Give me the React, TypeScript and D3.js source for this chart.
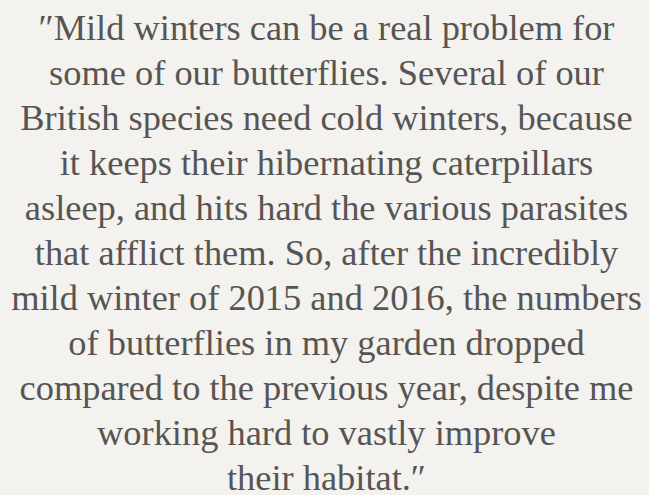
import React, { useEffect, useRef } from "react";
import * as d3 from "d3";

const quoteLines: string[] = [
  "″Mild winters can be a real problem for",
  "some of our butterflies. Several of our",
  "British species need cold winters, because",
  "it keeps their hibernating caterpillars",
  "asleep, and hits hard the various parasites",
  "that afflict them. So, after the incredibly",
  "mild winter of 2015 and 2016, the numbers",
  "of butterflies in my garden dropped",
  "compared to the previous year, despite me",
  "working hard to vastly improve",
  "their habitat.″",
];

const W = 649;
const H = 495;

export default function App() {
  const ref = useRef<SVGSVGElement | null>(null);
  useEffect(() => {
    const svg = d3.select(ref.current);
    svg.selectAll("*").remove();
    svg.append("rect").attr("width", W).attr("height", H).attr("fill", "#f3f2ee");
    const y = d3
      .scaleLinear()
      .domain([0, quoteLines.length - 1])
      .range([40, 490]);
    svg
      .append("g")
      .selectAll("text")
      .data(quoteLines)
      .join("text")
      .attr("x", W / 2 + 2)
      .attr("y", (_d, i) => y(i))
      .attr("text-anchor", "middle")
      .attr("font-family", "'Liberation Serif', serif")
      .attr("font-size", 36.4)
      .attr("fill", "#575554")
      .text((d) => d);
  }, []);
  return (
    <div style={{ position: "absolute", left: 0, top: 0, width: W, height: H }}>
      <svg ref={ref} width={W} height={H} style={{ display: "block" }} />
    </div>
  );
}
